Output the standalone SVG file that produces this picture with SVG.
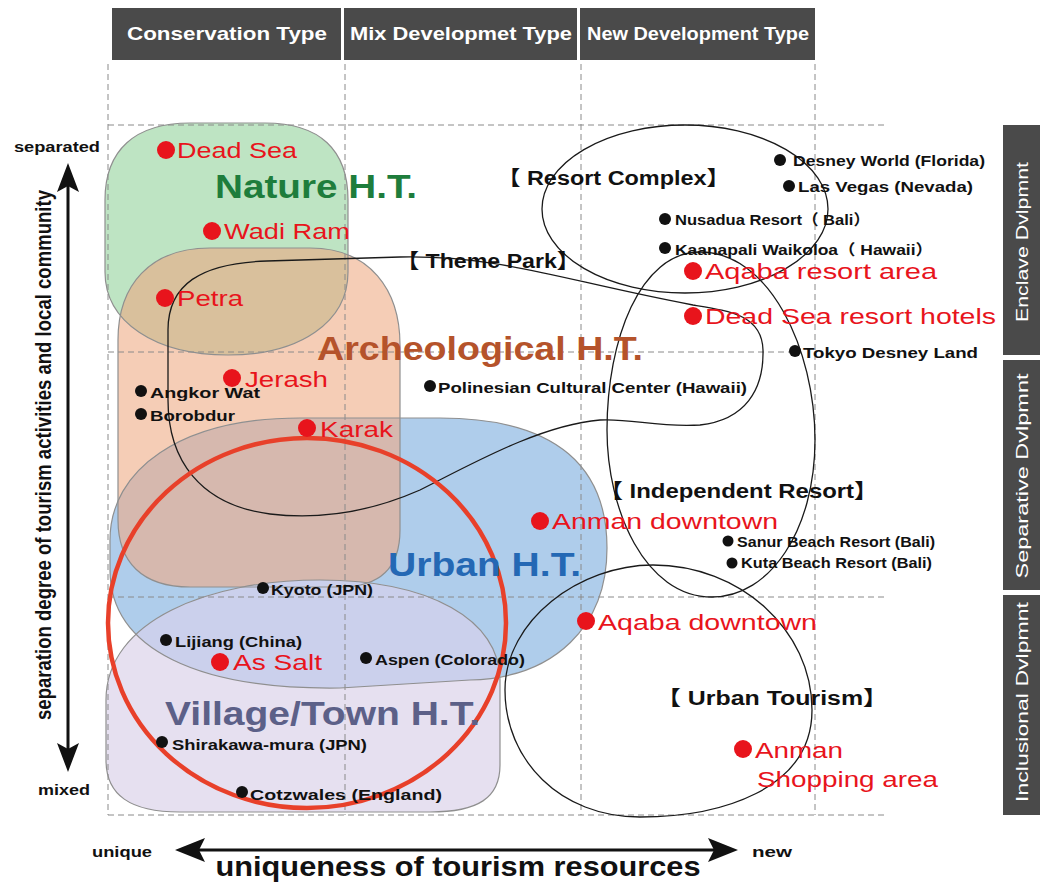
<svg xmlns="http://www.w3.org/2000/svg" width="1040" height="883" viewBox="0 0 1040 883">
<style>
.hdr{fill:#4a4a4a}
.hdt{fill:#fff;font-family:"Liberation Sans",Arial,sans-serif;font-weight:bold;font-size:19px;text-anchor:middle}
.sdt{fill:#fff;font-family:"Liberation Sans",Arial,sans-serif;font-size:17px;text-anchor:middle}
.grid{stroke:#8a8a8a;stroke-width:1;stroke-dasharray:6 4;fill:none}
.outline{fill:none;stroke:#8f8f8f;stroke-width:1.2}
.loop{fill:none;stroke:#1a1a1a;stroke-width:1.3}
.red{fill:#e8141c;font-family:"Liberation Sans",Arial,sans-serif;font-size:22px}
.blk{fill:#111;font-family:"Liberation Sans",Arial,"Noto Sans CJK JP",sans-serif;font-weight:bold;font-size:15px}
.cat{fill:#111;font-family:"Liberation Sans","Noto Sans CJK JP",sans-serif;font-weight:bold;font-size:20px}
.big{font-family:"Liberation Sans",Arial,sans-serif;font-weight:bold;font-size:34px}
.ax{fill:#111;font-family:"Liberation Sans",Arial,sans-serif;font-weight:bold}
.rd{fill:#e8141c}
.bd{fill:#111}
</style>
<defs>
<path id="pNature" d="M 190 123 L 265 123 C 320 123 348 150 348 200 L 348 272 C 348 322 300 355 228 355 C 155 355 105 322 105 272 L 105 200 C 105 150 135 123 190 123 Z"/>
<path id="pArch" d="M 210 248 L 310 248 C 370 248 400 290 400 345 L 400 530 C 400 568 380 587 340 587 L 190 587 C 142 587 118 562 118 520 L 118 340 C 118 285 150 248 210 248 Z"/>
<path id="pUrban" d="M 300 418 L 440 418 C 560 418 607 470 607 548 C 607 626 555 678 470 680 L 340 688 C 200 690 110 650 110 570 L 110 540 C 110 470 180 418 300 418 Z"/>
<path id="pVillage" d="M 320 580 C 430 580 500 620 500 680 L 500 765 C 500 798 478 812 430 812 L 180 812 C 130 812 106 795 106 760 L 106 700 C 106 620 210 580 320 580 Z"/>
<clipPath id="cArch"><use href="#pArch"/></clipPath>
<clipPath id="cUrban"><use href="#pUrban"/></clipPath>
<clipPath id="cVillage"><use href="#pVillage"/></clipPath>
</defs>
<rect width="1040" height="883" fill="#fff"/>

<!-- header -->
<g id="header">
<rect class="hdr" x="112" y="8" width="229" height="52"/>
<rect class="hdr" x="344" y="8" width="233" height="52"/>
<rect class="hdr" x="580" y="8" width="235" height="52"/>
<text class="hdt" x="227" y="40" textLength="200" lengthAdjust="spacingAndGlyphs">Conservation Type</text>
<text class="hdt" x="461" y="40" textLength="222" lengthAdjust="spacingAndGlyphs">Mix Developmet Type</text>
<text class="hdt" x="698" y="40" textLength="222" lengthAdjust="spacingAndGlyphs">New Development Type</text>
</g>
<g id="side-header">
<rect class="hdr" x="1003" y="125" width="37" height="230"/>
<rect class="hdr" x="1003" y="360" width="37" height="230"/>
<rect class="hdr" x="1003" y="595" width="37" height="220"/>
<text class="sdt" transform="translate(1028 242) rotate(-90)" textLength="160" lengthAdjust="spacingAndGlyphs">Enclave Dvlpmnt</text>
<text class="sdt" transform="translate(1028 476) rotate(-90)" textLength="205" lengthAdjust="spacingAndGlyphs">Separative Dvlpmnt</text>
<text class="sdt" transform="translate(1028 702) rotate(-90)" textLength="200" lengthAdjust="spacingAndGlyphs">Inclusional Dvlpmnt</text>
</g>

<!-- area fills -->
<g id="areas">
<use href="#pArch" fill="#f5cdb6"/>
<use href="#pNature" fill="#bee4c3"/>
<use href="#pNature" fill="#d9c09c" clip-path="url(#cArch)"/>
<use href="#pUrban" fill="#afcdeb"/>
<use href="#pUrban" fill="#d6b8ae" clip-path="url(#cArch)"/>
<use href="#pVillage" fill="#e6e0f0"/>
<use href="#pUrban" fill="#cbd0ec" clip-path="url(#cVillage)"/>
</g>

<!-- grid -->
<g id="grid">
<line class="grid" x1="108" y1="64" x2="108" y2="815"/>
<line class="grid" x1="345" y1="64" x2="345" y2="815"/>
<line class="grid" x1="581" y1="64" x2="581" y2="815"/>
<line class="grid" x1="815" y1="64" x2="815" y2="815"/>
<line class="grid" x1="108" y1="125" x2="888" y2="125"/>
<line class="grid" x1="108" y1="352" x2="790" y2="352"/>
<line class="grid" x1="108" y1="597" x2="888" y2="597"/>
<line class="grid" x1="108" y1="815" x2="888" y2="815"/>
</g>

<!-- area outlines -->
<g id="outlines">
<use href="#pArch" class="outline"/>
<use href="#pNature" class="outline"/>
<use href="#pUrban" class="outline"/>
<use href="#pVillage" class="outline"/>
</g>

<!-- category loops -->
<g id="resort-complex"><ellipse class="loop" cx="685" cy="209" rx="143" ry="84"/></g>
<g id="theme-park"><path class="loop" d="M 400 257 C 500 255 560 280 693 305 C 730 311 762 315 763 350 C 764 390 745 420 700 425 C 660 428 630 418 600 420 C 540 425 470 465 420 490 C 370 512 320 520 270 514 C 200 505 168 460 168 400 L 168 330 C 168 285 200 263 267 261 Z"/></g>
<g id="independent-resort"><path class="loop" d="M 700 252 C 770 252 815 350 815 440 C 815 530 770 597 712 597 C 645 597 607 510 607 430 C 607 340 640 252 700 252 Z"/></g>
<g id="urban-tourism"><path class="loop" d="M 653 565 C 740 565 812 630 812 710 C 812 790 720 817 640 817 C 560 817 505 760 505 690 C 505 620 580 565 653 565 Z"/></g>
<g id="target-circle"><ellipse cx="307" cy="623" rx="199" ry="185" fill="none" stroke="#e8402a" stroke-width="4.5"/></g>

<!-- big area labels -->
<g id="nature-label"><text class="big" x="215" y="198" fill="#1e7d3c" textLength="202" lengthAdjust="spacingAndGlyphs">Nature H.T.</text></g>
<g id="arch-label"><text class="big" x="317" y="360" fill="#b5532b" textLength="326" lengthAdjust="spacingAndGlyphs">Archeological H.T.</text></g>
<g id="urban-label"><text class="big" x="388" y="576" fill="#2468b4" textLength="193" lengthAdjust="spacingAndGlyphs">Urban H.T.</text></g>
<g id="village-label"><text class="big" x="165" y="725" fill="#5c6088" textLength="315" lengthAdjust="spacingAndGlyphs">Village/Town H.T.</text></g>

<!-- category labels -->
<g id="cat-labels">
<text class="cat" x="497" y="185" textLength="233" lengthAdjust="spacingAndGlyphs">【 Resort Complex】</text>
<text class="cat" x="396" y="268" textLength="184" lengthAdjust="spacingAndGlyphs">【 Theme Park】</text>
<text class="cat" x="599" y="498" textLength="279" lengthAdjust="spacingAndGlyphs">【 Independent Resort】</text>
<text class="cat" x="656" y="705" textLength="232" lengthAdjust="spacingAndGlyphs">【 Urban Tourism】</text>
</g>

<!-- Jordan sites (red) -->
<g id="dead-sea"><circle class="rd" cx="166" cy="150" r="9"/><text class="red" x="177" y="158" textLength="120" lengthAdjust="spacingAndGlyphs">Dead Sea</text></g>
<g id="wadi-ram"><circle class="rd" cx="212" cy="231" r="9"/><text class="red" x="224" y="239" textLength="126" lengthAdjust="spacingAndGlyphs">Wadi Ram</text></g>
<g id="petra"><circle class="rd" cx="165" cy="298" r="9"/><text class="red" x="177" y="306" textLength="66" lengthAdjust="spacingAndGlyphs">Petra</text></g>
<g id="jerash"><circle class="rd" cx="232" cy="378" r="9"/><text class="red" x="245" y="387" textLength="83" lengthAdjust="spacingAndGlyphs">Jerash</text></g>
<g id="karak"><circle class="rd" cx="307" cy="428" r="9"/><text class="red" x="320" y="437" textLength="73" lengthAdjust="spacingAndGlyphs">Karak</text></g>
<g id="aqaba-resort"><circle class="rd" cx="693" cy="271" r="9"/><text class="red" x="705" y="279" textLength="232" lengthAdjust="spacingAndGlyphs">Aqaba resort area</text></g>
<g id="dead-sea-hotels"><circle class="rd" cx="693" cy="316" r="9"/><text class="red" x="705" y="324" textLength="291" lengthAdjust="spacingAndGlyphs">Dead Sea resort hotels</text></g>
<g id="anman-downtown"><circle class="rd" cx="540" cy="521" r="9"/><text class="red" x="552" y="529" textLength="226" lengthAdjust="spacingAndGlyphs">Anman downtown</text></g>
<g id="aqaba-downtown"><circle class="rd" cx="586" cy="621" r="9"/><text class="red" x="598" y="630" textLength="219" lengthAdjust="spacingAndGlyphs">Aqaba downtown</text></g>
<g id="as-salt"><circle class="rd" cx="220" cy="662" r="9"/><text class="red" x="233" y="670" textLength="89" lengthAdjust="spacingAndGlyphs">As Salt</text></g>
<g id="anman-shopping"><circle class="rd" cx="743" cy="749" r="9"/><text class="red" x="755" y="758" textLength="88" lengthAdjust="spacingAndGlyphs">Anman</text><text class="red" x="757" y="787" textLength="181" lengthAdjust="spacingAndGlyphs">Shopping area</text></g>

<!-- world examples (black) -->
<g id="angkor"><circle class="bd" cx="141" cy="391" r="6"/><text class="blk" x="150" y="398" textLength="110" lengthAdjust="spacingAndGlyphs">Angkor Wat</text></g>
<g id="borobudur"><circle class="bd" cx="141" cy="414" r="6"/><text class="blk" x="150" y="421" textLength="85" lengthAdjust="spacingAndGlyphs">Borobdur</text></g>
<g id="polinesian"><circle class="bd" cx="430" cy="386" r="6"/><text class="blk" x="438" y="393" textLength="309" lengthAdjust="spacingAndGlyphs">Polinesian Cultural Center (Hawaii)</text></g>
<g id="desney-world"><circle class="bd" cx="780" cy="160" r="6"/><text class="blk" x="793" y="166" textLength="192" lengthAdjust="spacingAndGlyphs">Desney World (Florida)</text></g>
<g id="las-vegas"><circle class="bd" cx="789" cy="186" r="6"/><text class="blk" x="798" y="192" textLength="175" lengthAdjust="spacingAndGlyphs">Las Vegas (Nevada)</text></g>
<g id="nusadua"><circle class="bd" cx="665" cy="219" r="6"/><text class="blk" x="675" y="225" textLength="195" lengthAdjust="spacingAndGlyphs">Nusadua Resort（ Bali）</text></g>
<g id="kaanapali"><circle class="bd" cx="665" cy="248" r="6"/><text class="blk" x="675" y="255" textLength="258" lengthAdjust="spacingAndGlyphs">Kaanapali Waikoloa（ Hawaii）</text></g>
<g id="tokyo-desney"><circle class="bd" cx="795" cy="351" r="6"/><text class="blk" x="803" y="358" textLength="175" lengthAdjust="spacingAndGlyphs">Tokyo Desney Land</text></g>
<g id="sanur"><circle class="bd" cx="728" cy="541" r="5.5"/><text class="blk" x="737" y="547" font-size="14" textLength="198" lengthAdjust="spacingAndGlyphs">Sanur Beach Resort (Bali)</text></g>
<g id="kuta"><circle class="bd" cx="732" cy="563" r="5.5"/><text class="blk" x="741" y="568" font-size="14" textLength="191" lengthAdjust="spacingAndGlyphs">Kuta Beach Resort (Bali)</text></g>
<g id="kyoto"><circle class="bd" cx="263" cy="588" r="6"/><text class="blk" x="271" y="595" textLength="102" lengthAdjust="spacingAndGlyphs">Kyoto (JPN)</text></g>
<g id="lijiang"><circle class="bd" cx="166" cy="640" r="6"/><text class="blk" x="175" y="647" textLength="127" lengthAdjust="spacingAndGlyphs">Lijiang (China)</text></g>
<g id="aspen"><circle class="bd" cx="366" cy="658" r="6"/><text class="blk" x="375" y="665" textLength="150" lengthAdjust="spacingAndGlyphs">Aspen (Colorado)</text></g>
<g id="shirakawa"><circle class="bd" cx="162" cy="742" r="6"/><text class="blk" x="172" y="750" textLength="195" lengthAdjust="spacingAndGlyphs">Shirakawa-mura (JPN)</text></g>
<g id="cotzwales"><circle class="bd" cx="242" cy="792" r="6"/><text class="blk" x="250" y="800" textLength="192" lengthAdjust="spacingAndGlyphs">Cotzwales (England)</text></g>

<!-- axes -->
<g id="connectors">
<line x1="68" y1="185" x2="68" y2="750" stroke="#111" stroke-width="3"/>
<polygon points="68,163 57,192 68,186 79,192" fill="#111"/>
<polygon points="68,772 57,743 68,749 79,743" fill="#111"/>
<line x1="198" y1="850" x2="716" y2="850" stroke="#111" stroke-width="3"/>
<polygon points="175,850 205,838 199,850 205,862" fill="#111"/>
<polygon points="738,850 708,838 714,850 708,862" fill="#111"/>
</g>
<g id="axis-labels">
<text class="ax" x="14" y="152" font-size="14" textLength="86" lengthAdjust="spacingAndGlyphs">separated</text>
<text class="ax" x="38" y="795" font-size="14" textLength="52" lengthAdjust="spacingAndGlyphs">mixed</text>
<text class="ax" x="92" y="857" font-size="14" textLength="60" lengthAdjust="spacingAndGlyphs">unique</text>
<text class="ax" x="752" y="857" font-size="14" textLength="40" lengthAdjust="spacingAndGlyphs">new</text>
<text class="ax" x="458" y="876" font-size="28" text-anchor="middle" textLength="485" lengthAdjust="spacingAndGlyphs">uniqueness of tourism resources</text>
<text class="ax" transform="translate(51 455) rotate(-90)" font-size="22" text-anchor="middle" textLength="530" lengthAdjust="spacingAndGlyphs">separation degree of tourism activities and local community</text>
</g>
</svg>
